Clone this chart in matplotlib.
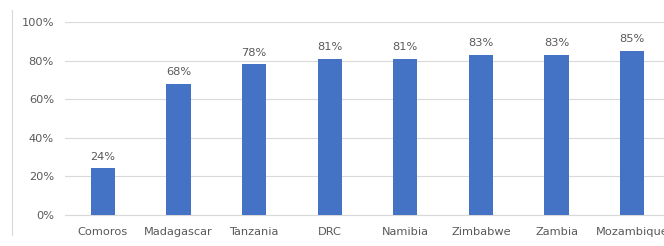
import matplotlib.pyplot as plt
from matplotlib.lines import Line2D

countries = ['Comoros', 'Madagascar', 'Tanzania', 'DRC', 'Namibia',
             'Zimbabwe', 'Zambia', 'Mozambique']
values = [24, 68, 78, 81, 81, 83, 83, 85]
yticks = [0, 20, 40, 60, 80, 100]

fig = plt.figure(figsize=(6.64, 2.46), dpi=100)
ax = fig.add_axes([0.098, 0.128, 0.911, 0.782])

x = range(len(countries))
bars = ax.bar(x, values, width=0.32, color='#4472C4', zorder=3)
for b, v in zip(bars, values):
    ax.text(b.get_x() + b.get_width() / 2, v + 3.5, f'{v}%', ha='center',
            va='bottom', fontsize=8.2, color='#595959')

ax.set_xlim(-0.5, len(countries) - 0.5)
ax.set_ylim(0, 100)
ax.set_yticks(yticks)
ax.set_yticklabels([f'{t}%' for t in yticks])
ax.set_xticks(list(x))
ax.set_xticklabels(countries)
ax.tick_params(axis='both', length=0, labelsize=8.2, labelcolor='#595959')
ax.tick_params(axis='y', pad=8)
ax.tick_params(axis='x', pad=9)
ax.grid(axis='y', color='#D9D9D9', linewidth=0.8, zorder=0)
for s in ['top', 'right', 'left']:
    ax.spines[s].set_visible(False)
ax.spines['bottom'].set_color('#D9D9D9')

# faint chart-area border on the left
fig.add_artist(Line2D([0.018, 0.018], [0.045, 0.96], color='#D9D9D9',
                      linewidth=0.8, transform=fig.transFigure))

fig.savefig('out.png', dpi=100)
